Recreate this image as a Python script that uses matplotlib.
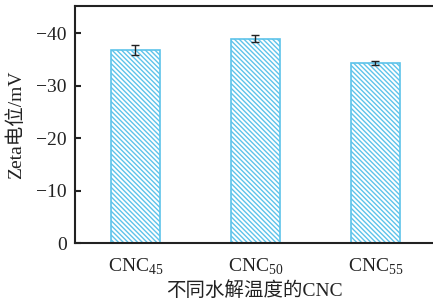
import matplotlib
matplotlib.use("Agg")
import matplotlib.pyplot as plt

categories = ["CNC$_{\\mathregular{45}}$", "CNC$_{\\mathregular{50}}$", "CNC$_{\\mathregular{55}}$"]
zeta = [-36.8, -39.0, -34.3]
err = [1.0, 0.7, 0.4]
yticks = [0, -10, -20, -30, -40]
ytick_labels = ["0", "\u221210", "\u221220", "\u221230", "\u221240"]

plt.rcParams['font.family'] = ['Liberation Serif', 'Noto Sans CJK SC']
plt.rcParams['mathtext.fontset'] = 'custom'
plt.rcParams['mathtext.rm'] = 'Liberation Serif'
plt.rcParams['hatch.linewidth'] = 1.0
plt.rcParams['hatch.color'] = '#5ec3ea'

fig = plt.figure(figsize=(4.33, 3.02), dpi=100)
ax = fig.add_axes([0.173, 0.195, 0.827, 0.785])
x = list(range(len(categories)))
ax.bar(x, zeta, width=0.41, color='white', edgecolor='#5ec3ea', linewidth=1.2,
       hatch='\\' * 7, zorder=2)
ax.errorbar(x, zeta, yerr=err, fmt='none', ecolor='#222222', elinewidth=1.0,
            capsize=3, capthick=1.0, zorder=3)
ax.set_xlim(-0.504, 2.48)
ax.set_ylim(0, -45.2)
ax.set_yticks(yticks)
ax.set_yticklabels(ytick_labels)
ax.set_xticks(x)
ax.set_xticklabels(categories)
ax.spines['right'].set_visible(False)
for s in ['left', 'top', 'bottom']:
    ax.spines[s].set_linewidth(1.5)
    ax.spines[s].set_color('#222222')
ax.tick_params(axis='y', direction='in', length=4, width=1.5, labelsize=14, pad=6, colors='#222222')
ax.tick_params(axis='x', length=0, labelsize=14, pad=10, colors='#222222')
ax.set_ylabel('Zeta电位/mV', fontsize=14, labelpad=8, color='#222222')
ax.set_xlabel('不同水解温度的CNC', fontsize=14, labelpad=3, color='#222222')
fig.savefig('out.png', dpi=100)
